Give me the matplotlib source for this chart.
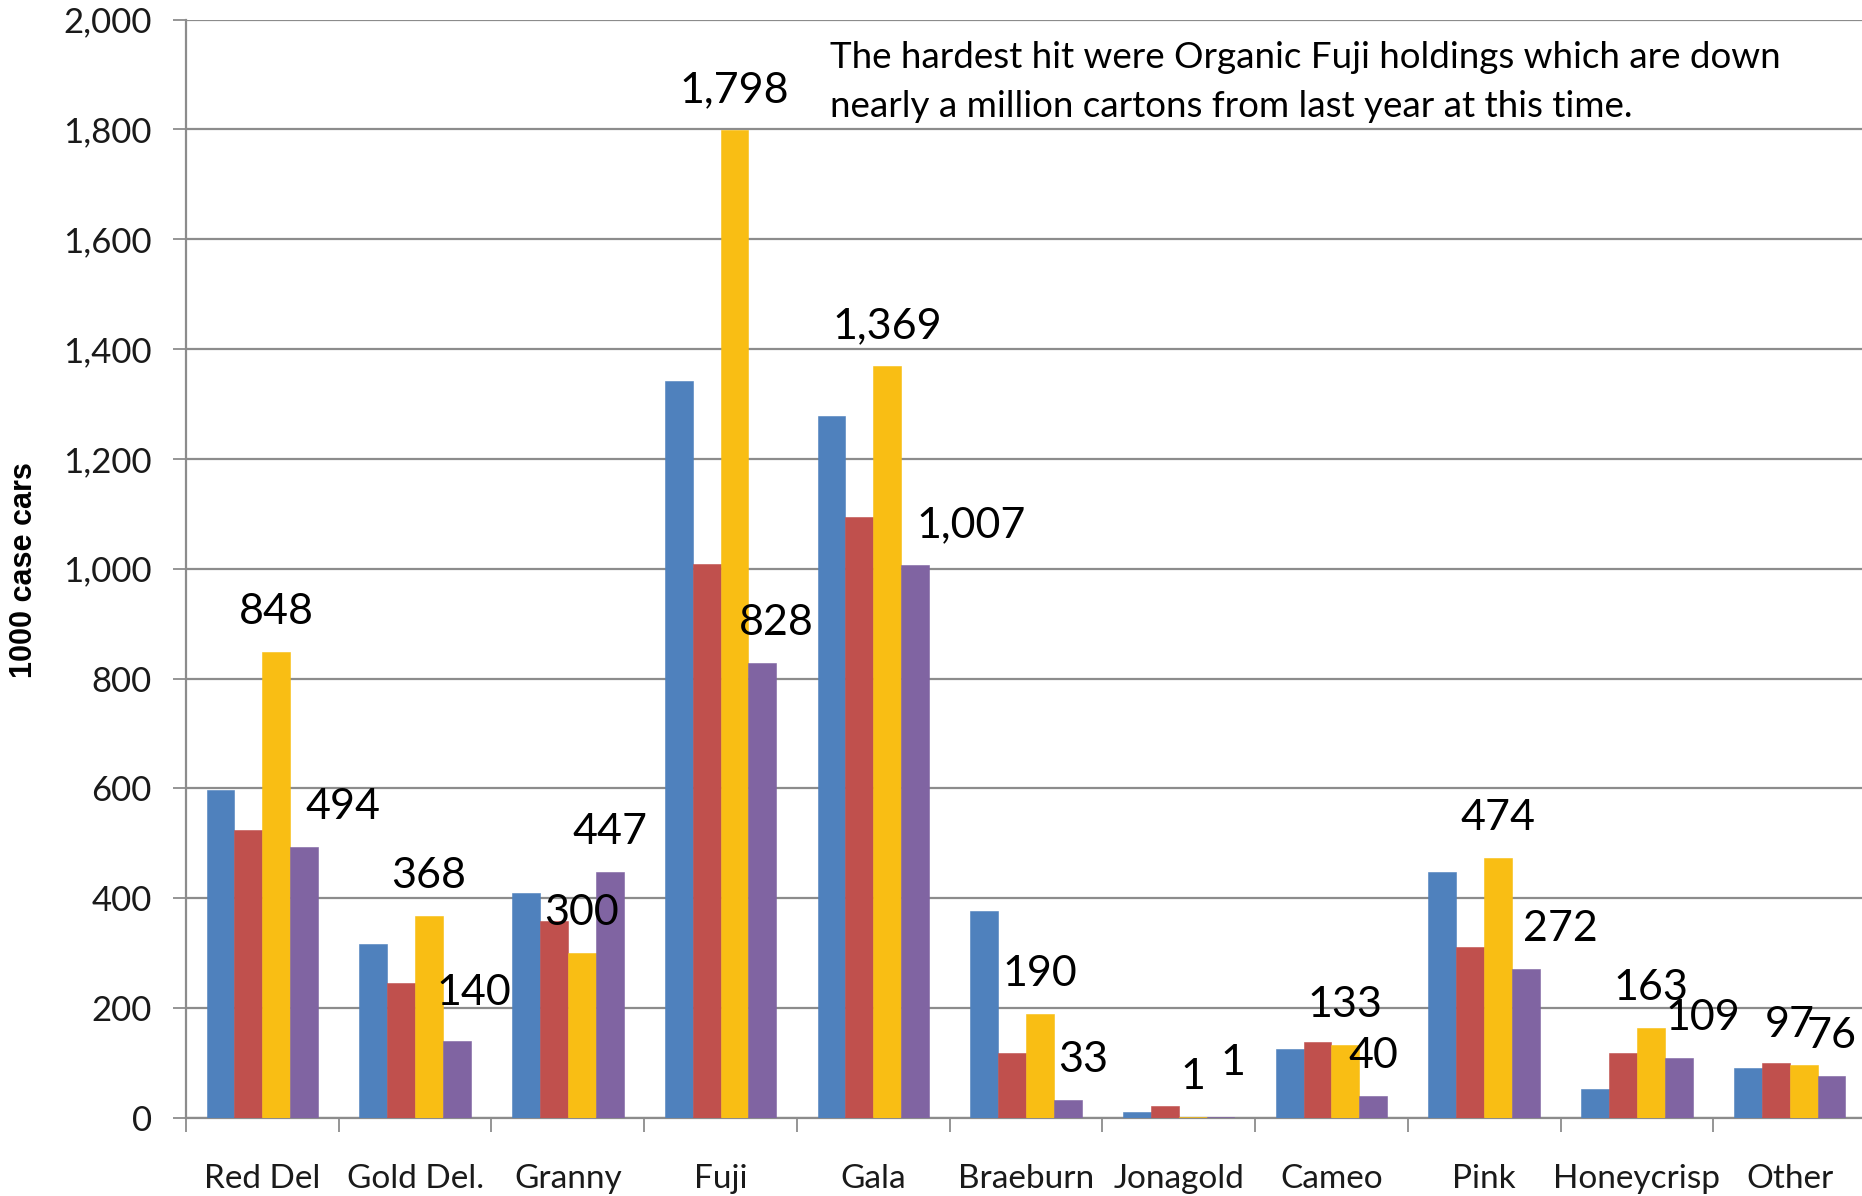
import matplotlib
matplotlib.use("Agg")
import matplotlib.pyplot as plt
import numpy as np

# Holdings by variety (1000 case cartons), four reporting periods
categories = ["Red Del", "Gold Del.", "Granny", "Fuji", "Gala", "Braeburn",
              "Jonagold", "Cameo", "Pink", "Honeycrisp", "Other"]
series_a = [597, 316, 409, 1342, 1279, 377, 11, 126, 448, 52, 91]
series_b = [524, 245, 359, 1008, 1095, 119, 22, 139, 312, 119, 100]
series_c = [848, 368, 300, 1798, 1369, 190, 1, 133, 474, 163, 97]
series_d = [494, 140, 447, 828, 1007, 33, 1, 40, 272, 109, 76]
y_ticks = [0, 200, 400, 600, 800, 1000, 1200, 1400, 1600, 1800, 2000]
note = ("The hardest hit were Organic Fuji holdings which are down\n"
        "nearly a million cartons from last year at this time.")
y_title = "1000 case cars"

colors = ["#4F81BD", "#C0504D", "#F9BE14", "#8064A2"]
label_font = "Lato"

# label nudges (pixels) for the third and fourth series
c_dx = [0, 0, 0, 0, 0, 0, 0, 0, 0, 0, -14]
d_dx = [39, 17, 0, 14, 56, 15, 12, 0, 34, 24, 0]
d_dy = [0, 8, 0, 0, 0, 0, 14, 0, 0, 0, 0]

fig = plt.figure(figsize=(18.62, 11.96), dpi=100)
ax = fig.add_axes([186 / 1862, 78 / 1196, 1680 / 1862, (1118 - 19.5) / 1196])

x = np.arange(len(categories))
w = 0.1825
all_series = [series_a, series_b, series_c, series_d]
bars = []
for i, (vals, col) in enumerate(zip(all_series, colors)):
    b = ax.bar(x + (i - 1.5) * w, vals, width=w, color=col,
               edgecolor=col, linewidth=0.4, zorder=3)
    bars.append(b)

ax.set_xlim(-0.5, len(categories) - 0.5)
ax.set_ylim(0, 2000)
ax.set_yticks(y_ticks)
ax.set_yticklabels([f"{v:,}" for v in y_ticks], fontfamily=label_font,
                   fontsize=25, color="#1a1a1a")
ax.yaxis.grid(True, color="#8c8c8c", linewidth=1.6, zorder=0)
ax.set_axisbelow(True)

ax.set_xticks(x)
ax.set_xticklabels(categories, fontfamily=label_font, fontsize=24, color="#1a1a1a")
ax.set_xticks(np.arange(len(categories) + 1) - 0.5, minor=True)
ax.tick_params(axis="x", which="major", length=0, pad=33)
ax.tick_params(axis="x", which="minor", length=10, width=1.3, color="#8c8c8c")
ax.tick_params(axis="y", length=9.5, width=1.3, color="#8c8c8c", pad=15)

for side in ["top", "right"]:
    ax.spines[side].set_visible(False)
for side in ["left", "bottom"]:
    ax.spines[side].set_color("#8c8c8c")
    ax.spines[side].set_linewidth(1.6)

# value labels on the last two series
for j in range(len(categories)):
    rc = bars[2][j]
    ax.annotate(f"{series_c[j]:,}", (rc.get_x() + rc.get_width() / 2, series_c[j]),
                xytext=(c_dx[j], 40), textcoords="offset pixels",
                ha="center", va="center", fontsize=31, fontfamily=label_font,
                color="black", zorder=5)
    rd = bars[3][j]
    ax.annotate(f"{series_d[j]:,}", (rd.get_x() + rd.get_width() / 2, series_d[j]),
                xytext=(d_dx[j], 40 + d_dy[j]), textcoords="offset pixels",
                ha="center", va="center", fontsize=31, fontfamily=label_font,
                color="black", zorder=5)

fig.text(24 / 1862, 1 - 570 / 1196, y_title, rotation=90, ha="center", va="center",
         fontsize=22, fontweight="bold", fontfamily="Liberation Sans")

fig.text(830 / 1862, 1 - 82 / 1196, note, ha="left", va="center",
         fontsize=26.5, fontfamily=label_font, linespacing=1.6, color="black")

fig.savefig("out.png", dpi=100)
